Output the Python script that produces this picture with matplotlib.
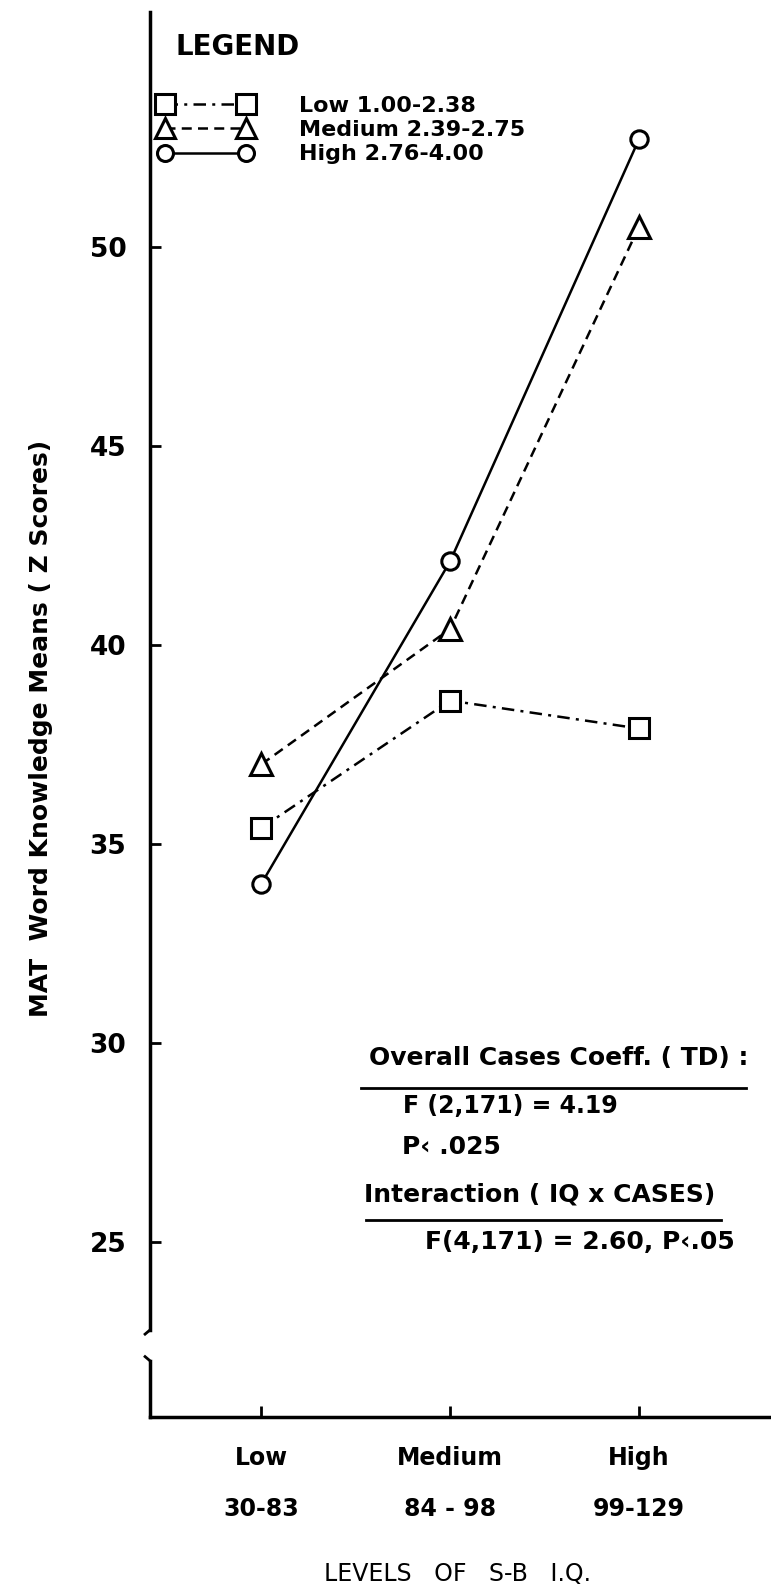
import matplotlib
matplotlib.use("Agg")
import matplotlib.pyplot as plt
from matplotlib.lines import Line2D

# data
iq_levels = ["Low\n30-83", "Medium\n84 - 98", "High\n99-129"]
low_cases = [35.4, 38.6, 37.9]      # Low 1.00-2.38
medium_cases = [37.0, 40.4, 50.5]   # Medium 2.39-2.75
high_cases = [34.0, 42.1, 52.7]     # High 2.76-4.00
series_labels = ["Low 1.00-2.38", "Medium 2.39-2.75", "High 2.76-4.00"]
y_ticks = [25, 30, 35, 40, 45, 50]

plt.rcParams['font.family'] = ['DejaVu Sans']

fig = plt.figure(figsize=(7.71, 15.87), dpi=100)
ax = fig.add_axes([0.1946, 0.1071, 0.8054, 0.8853])

x = list(range(len(iq_levels)))
styles = [
    (low_cases, 's', (0, (5, 2.5, 1.2, 2.5)), 15),
    (medium_cases, '^', (0, (4, 2.5)), 16),
    (high_cases, 'o', '-', 12.5),
]
handles = []
for (vals, mk, ls, ms), lab in zip(styles, series_labels):
    ax.plot(x, vals, marker=mk, linestyle=ls, color='black', lw=1.8,
            markersize=ms, markerfacecolor='white', markeredgewidth=2.2, zorder=3)
    handles.append(Line2D([], [], marker=mk, linestyle=ls, color='black', lw=1.8,
                          markersize=ms - 1, markerfacecolor='white',
                          markeredgewidth=2.2, label=lab))

ax.set_xlim(-0.59, 2.70)
ax.set_ylim(20.6, 55.9)
ax.set_yticks(y_ticks)
ax.set_yticklabels([str(t) for t in y_ticks], fontsize=19, fontweight='bold')
ax.set_xticks(x)
ax.set_xticklabels(iq_levels, fontsize=17, fontweight='bold', linespacing=2.4)
ax.tick_params(axis='y', direction='in', length=8, width=2, pad=17)
ax.tick_params(axis='x', direction='in', length=8, width=2, pad=21)

for s in ['top', 'right']:
    ax.spines[s].set_visible(False)
ax.spines['left'].set_visible(False)
ax.spines['bottom'].set_linewidth(2.5)

# broken y axis drawn by hand
ax.plot([0, 0], [0.062, 1.0], transform=ax.transAxes, color='black', lw=2.5, clip_on=False)
ax.plot([0, 0], [0.0, 0.040], transform=ax.transAxes, color='black', lw=2.5, clip_on=False)
ax.plot([-0.008, 0.0], [0.059, 0.062], transform=ax.transAxes, color='black', lw=2, clip_on=False)
ax.plot([-0.008, 0.0], [0.043, 0.040], transform=ax.transAxes, color='black', lw=2, clip_on=False)

ax.set_ylabel("MAT  Word Knowledge Means ( Z Scores)", fontsize=18, fontweight='bold')
ax.yaxis.set_label_coords(-0.156, 0.49, transform=ax.transAxes)
ax.set_xlabel("LEVELS   OF   S-B   I.Q.", fontsize=17)
ax.xaxis.set_label_coords(0.495, -0.103, transform=ax.transAxes)

# legend
fig.text(0.227, 0.9706, "LEGEND", fontsize=20, fontweight='bold', va='center', ha='left')
fig.legend(handles=handles, loc='upper left', bbox_to_anchor=(0.2053, 0.9395),
           frameon=False, numpoints=2, handlelength=4.25,
           handletextpad=2.1, labelspacing=0.19, borderpad=0, borderaxespad=0,
           prop={'size': 16, 'weight': 'bold'})

# statistics box
fs = 18
fig.text(0.479, 0.3336, "Overall Cases Coeff. ( TD) :", fontsize=fs, fontweight='bold', va='center', ha='left')
fig.add_artist(Line2D([0.4685, 0.9675], [0.3144, 0.3144], color='black', lw=2))
fig.text(0.5225, 0.303, "F (2,171) = 4.19", fontsize=17, fontweight='bold', va='center', ha='left')
fig.text(0.521, 0.2774, "P‹ .025", fontsize=fs, fontweight='bold', va='center', ha='left')
fig.text(0.4726, 0.2474, "Interaction ( IQ x CASES)", fontsize=fs, fontweight='bold', va='center', ha='left')
fig.add_artist(Line2D([0.475, 0.9346], [0.2315, 0.2315], color='black', lw=2))
fig.text(0.5513, 0.2175, "F(4,171) = 2.60, P‹.05", fontsize=fs, fontweight='bold', va='center', ha='left')

fig.savefig("out.png", dpi=100)
